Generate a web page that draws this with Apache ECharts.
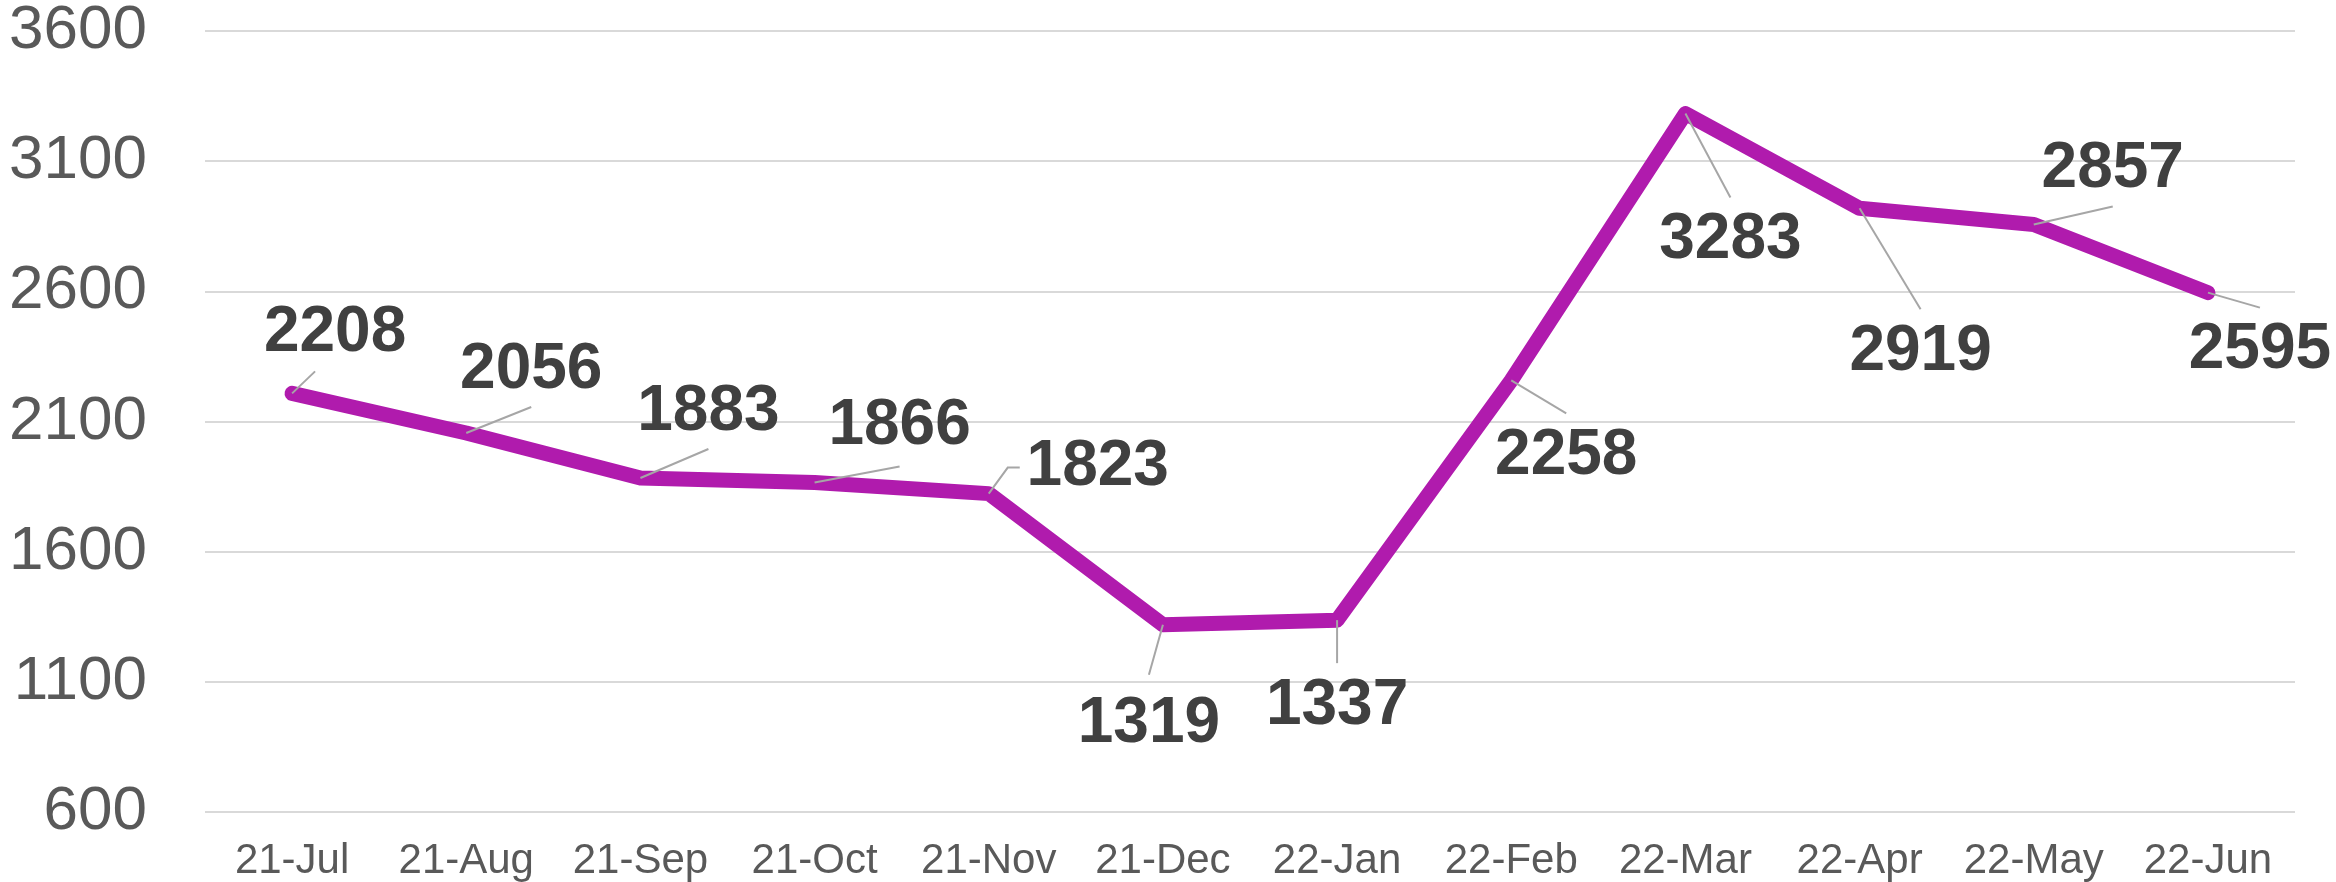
<!DOCTYPE html>
<html>
<head>
<meta charset="utf-8">
<title>Monthly trend</title>
<script src="https://cdn.jsdelivr.net/npm/echarts@6/dist/echarts.min.js"></script>
<style>
  html, body { margin: 0; padding: 0; background: #fff; }
  #chart { width: 2336px; height: 882px; }
</style>
</head>
<body>
<div id="chart"></div>
<script>
// months on the x axis
const months = ['21-Jul', '21-Aug', '21-Sep', '21-Oct', '21-Nov', '21-Dec',
                '22-Jan', '22-Feb', '22-Mar', '22-Apr', '22-May', '22-Jun'];
// values
const values = [2208, 2056, 1883, 1866, 1823, 1319, 1337, 2258, 3283, 2919, 2857, 2595];
// y axis range
const yMin = 600;
const yMax = 3600;
const yStep = 500;

// where each data label sits relative to its point (px)
const labelShift = [
  [43, -60], [65, -63], [68, -66], [85, -56], [109, -26], [-14, 100],
  [0, 86], [55, 76], [45, 127], [61, 144], [79, -55], [52, 58]
];
// where each leader line stops, relative to the label centre (px)
const leaderEnd = [
  [-20, 38], [0, 37], [0, 37], [0, 40], [-78, 0], [0, -50],
  [0, -43], [0, -43], [0, -43], [0, -43], [0, 37], [0, -43]
];

const font = '"Liberation Sans", Arial, sans-serif';

// leader lines, drawn from each point through the axis scales
function renderLeader(params, api) {
  const i = params.dataIndex;
  const p = api.coord([api.value(0), api.value(1)]);
  const s = labelShift[i];
  const e = leaderEnd[i];
  const end = [p[0] + s[0] + e[0], p[1] + s[1] + e[1]];
  const pts = i === 4 ? [p, [end[0] - 12, end[1]], end] : [p, end];
  return {
    type: 'polyline',
    shape: { points: pts },
    style: { stroke: '#A6A6A6', lineWidth: 2, fill: null },
    silent: true
  };
}

let option = {
  animation: false,
  grid: { left: 205, right: 41, top: 29, bottom: 70 },
  xAxis: {
    type: 'category',
    data: months,
    boundaryGap: true,
    axisLine: { show: false },
    axisTick: { show: false },
    axisLabel: { color: '#595959', fontSize: 42, fontFamily: font, margin: 28, interval: 0 }
  },
  yAxis: {
    type: 'value',
    min: yMin,
    max: yMax,
    interval: yStep,
    axisLine: { show: false },
    axisTick: { show: false },
    axisLabel: {
      color: '#595959', fontSize: 62, fontFamily: font, margin: 58,
      formatter: v => String(v)
    },
    splitLine: { lineStyle: { color: '#D9D9D9', width: 2 } }
  },
  series: [{
    type: 'line',
    data: values,
    symbol: 'circle',
    symbolSize: 1,
    showSymbol: true,
    z: 2,
    lineStyle: { color: '#B01BAD', width: 15, cap: 'round', join: 'round' },
    itemStyle: { color: '#B01BAD' },
    label: {
      show: true,
      position: 'inside',
      color: '#404040',
      fontSize: 64,
      fontWeight: 'bold',
      fontFamily: font
    },
    labelLayout: function (p) {
      const s = labelShift[p.dataIndex];
      return { dx: s[0], dy: s[1] };
    }
  }, {
    type: 'custom',
    z: 3,
    data: values.map((v, i) => [i, v]),
    renderItem: renderLeader
  }]
};

let myChart = echarts.init(document.getElementById('chart'));
myChart.setOption(option);
</script>
</body>
</html>
